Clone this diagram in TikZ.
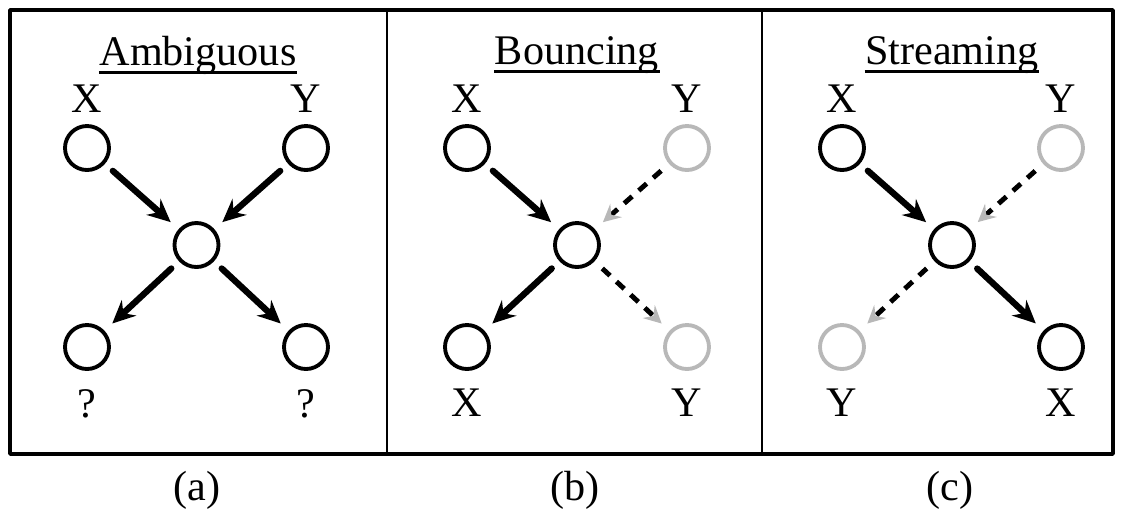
\documentclass[tikz,border=0pt]{standalone}
\usepackage{fontspec}
\setmainfont{Liberation Serif}
\usetikzlibrary{arrows.meta,positioning}
\definecolor{faint}{gray}{0.72}
\begin{document}
\begin{tikzpicture}[font=\fontsize{12}{14}\selectfont, line join=round, line cap=round]
	\tikzset{ball/.style={circle,draw,line width=1.1pt,minimum size=0.44cm,inner sep=0pt},
		ghost/.style={ball,draw=faint},
		move/.style={-{Stealth[length=6.5pt,width=6pt,inset=2.2pt]},line width=1.8pt,shorten <=3pt,shorten >=3pt},
		guess/.style={-{Stealth[length=5pt,width=5pt,inset=1.8pt,faint]},line width=1.4pt,line cap=butt,dash pattern=on 3pt off 2.5pt,shorten <=3pt,shorten >=3pt},
		heading/.style={inner xsep=0pt},
		rule/.style={line width=0.8pt,line cap=butt},
		tag/.style={inner sep=2pt}}
	\useasboundingbox (0,0) rectangle (11.22,5.21);
	\draw[line width=1pt] (0.10,0.67) rectangle (11.13,5.11);
	\draw[line width=0.8pt] (3.87,0.67)--(3.87,5.11) (7.62,0.67)--(7.62,5.11);
	% (a) ambiguous
	\node[heading] (ta) at (1.98,4.66) {Ambiguous};
	\draw[rule] ([yshift=-2pt]ta.base west)--([yshift=-2pt]ta.base east);
	\node[ball] (xa) at (0.87,3.73) {};
	\node[ball] (ya) at (3.06,3.73) {};
	\node[ball] (ca) at (1.965,2.76) {};
	\node[ball] (la) at (0.87,1.74) {};
	\node[ball] (ra) at (3.06,1.74) {};
	\node[tag,above=1pt of xa] (xta) {X};
	\node[tag,above=1pt of ya] (yta) {Y};
	\node[tag,below=3pt of la] (lta) {?};
	\node[tag,below=3pt of ra] (rta) {?};
	\draw[move] (xa)--(ca);
	\draw[move] (ya)--(ca);
	\draw[move] (ca)--(la);
	\draw[move] (ca)--(ra);
	\node (capa) at (1.97,0.31) {(a)};
	% (b) bouncing
	\node[heading] (tb) at (5.77,4.66) {Bouncing};
	\draw[rule] ([yshift=-2pt]tb.base west)--([yshift=-2pt]tb.base east);
	\node[ball] (xb) at (4.67,3.73) {};
	\node[ghost] (yb) at (6.87,3.73) {};
	\node[ball] (cb) at (5.77,2.76) {};
	\node[ball] (lb) at (4.67,1.74) {};
	\node[ghost] (rb) at (6.87,1.74) {};
	\node[tag,above=1pt of xb] (xtb) {X};
	\node[tag,above=1pt of yb] (ytb) {Y};
	\node[tag,below=3pt of lb] (ltb) {X};
	\node[tag,below=3pt of rb] (rtb) {Y};
	\draw[move] (xb)--(cb);
	\draw[guess] (yb)--(cb);
	\draw[move] (cb)--(lb);
	\draw[guess] (cb)--(rb);
	\node (capb) at (5.75,0.31) {(b)};
	% (c) streaming
	\node[heading] (tc) at (9.52,4.66) {Streaming};
	\draw[rule] ([yshift=-2pt]tc.base west)--([yshift=-2pt]tc.base east);
	\node[ball] (xc) at (8.42,3.73) {};
	\node[ghost] (yc) at (10.61,3.73) {};
	\node[ball] (cc) at (9.52,2.76) {};
	\node[ghost] (lc) at (8.42,1.74) {};
	\node[ball] (rc) at (10.61,1.74) {};
	\node[tag,above=1pt of xc] (xtc) {X};
	\node[tag,above=1pt of yc] (ytc) {Y};
	\node[tag,below=3pt of lc] (ltc) {Y};
	\node[tag,below=3pt of rc] (rtc) {X};
	\draw[move] (xc)--(cc);
	\draw[guess] (yc)--(cc);
	\draw[guess] (cc)--(lc);
	\draw[move] (cc)--(rc);
	\node (capc) at (9.50,0.31) {(c)};
\end{tikzpicture}
\end{document}
